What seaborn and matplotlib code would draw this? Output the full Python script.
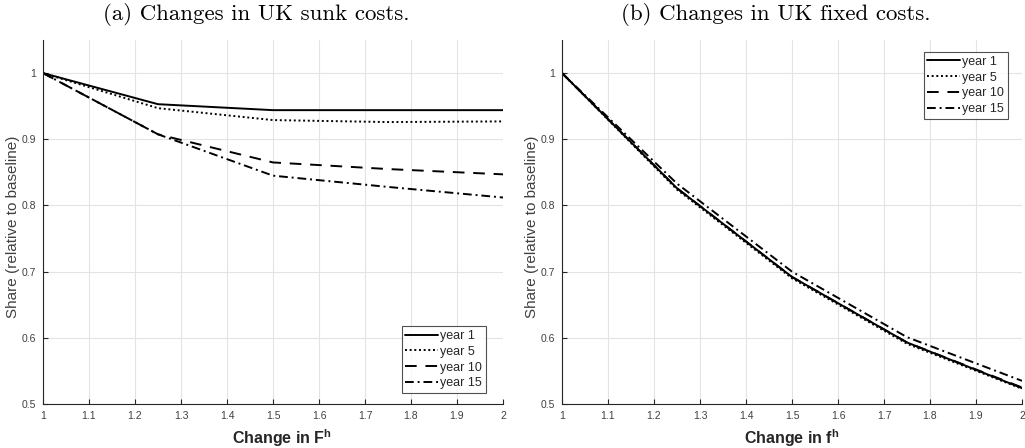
import matplotlib
matplotlib.use("Agg")
import matplotlib.pyplot as plt
import seaborn as sns
import pandas as pd

# ---- data ----
x_vals = [1.0, 1.25, 1.5, 1.75, 2.0]
series_names = ["year 1", "year 5", "year 10", "year 15"]

sunk_year1 = [1.0, 0.953, 0.944, 0.944, 0.944]
sunk_year5 = [1.0, 0.947, 0.929, 0.926, 0.927]
sunk_year10 = [1.0, 0.9075, 0.865, 0.855, 0.847]
sunk_year15 = [1.0, 0.9075, 0.845, 0.828, 0.812]

fixed_year1 = [1.0, 0.826, 0.692, 0.593, 0.524]
fixed_year5 = [1.0, 0.824, 0.690, 0.591, 0.523]
fixed_year10 = [1.0, 0.826, 0.692, 0.593, 0.525]
fixed_year15 = [1.0, 0.833, 0.700, 0.601, 0.535]

x_ticks = [1, 1.1, 1.2, 1.3, 1.4, 1.5, 1.6, 1.7, 1.8, 1.9, 2]
x_ticklabels = ["1", "1.1", "1.2", "1.3", "1.4", "1.5", "1.6", "1.7", "1.8", "1.9", "2"]
y_ticks = [0.5, 0.6, 0.7, 0.8, 0.9, 1.0]
y_ticklabels = ["0.5", "0.6", "0.7", "0.8", "0.9", "1"]

titles = ["(a) Changes in UK sunk costs.", "(b) Changes in UK fixed costs."]
xlabels = [r"Change in F$^{\mathbf{h}}$", r"Change in f$^{\mathbf{h}}$"]
ylabel = "Share (relative to baseline)"

sns.set_theme(style="white")
plt.rcParams["font.family"] = ["Liberation Sans", "DejaVu Sans"]
plt.rcParams["mathtext.fontset"] = "custom"
plt.rcParams["mathtext.bf"] = "Liberation Sans:bold"
plt.rcParams["mathtext.rm"] = "Liberation Sans"

W, H = 1025, 448
fig = plt.figure(figsize=(W / 100, H / 100), dpi=100)

def axrect(l, r, t, b):
    return [l / W, 1 - b / H, (r - l) / W, (b - t) / H]

ax1 = fig.add_axes(axrect(43, 503, 40, 404))
ax2 = fig.add_axes(axrect(562, 1022, 40, 404))

styles = ["-", (0, (1, 1.4)), (0, (6, 4.5)), (0, (4.5, 2, 1, 2))]
axis_col = "#262626"

def draw(ax, ys, xlabel, xlab_x, legend_kw):
    for name, yv, ls in zip(series_names, ys, styles):
        df = pd.DataFrame({"x": x_vals, "y": yv})
        sns.lineplot(data=df, x="x", y="y", ax=ax, color="black", lw=1.4,
                     linestyle=ls, label=name)
    ax.set_xlim(1, 2)
    ax.set_ylim(0.5, 1.05)
    ax.set_xticks(x_ticks)
    ax.set_xticklabels(x_ticklabels)
    ax.set_yticks(y_ticks)
    ax.set_yticklabels(y_ticklabels)
    ax.grid(True, color="#e3e3e3", lw=0.8)
    ax.set_axisbelow(True)
    for s in ["top", "right"]:
        ax.spines[s].set_visible(False)
    for s in ["left", "bottom"]:
        ax.spines[s].set_color(axis_col)
        ax.spines[s].set_linewidth(0.8)
    ax.tick_params(direction="in", length=3.5, width=0.8, colors=axis_col,
                   labelsize=7.5, labelcolor="#404040", pad=5,
                   bottom=True, left=True)
    ax.set_xlabel(xlabel, fontsize=11.5, fontweight="bold", color="#262626")
    ax.xaxis.set_label_coords(xlab_x, -0.093)
    ax.xaxis.label.set_va("center")
    ax.set_ylabel(ylabel, fontsize=11, color="#404040")
    ax.yaxis.set_label_coords(-0.066, 0.488)
    ax.yaxis.label.set_va("center")
    leg = ax.legend(fontsize=9, frameon=True, fancybox=False, edgecolor="#262626",
                    borderpad=0.3, labelspacing=0.3, handlelength=2.6,
                    handletextpad=0.2, borderaxespad=0, **legend_kw)
    leg.get_frame().set_linewidth(0.8)

draw(ax1, [sunk_year1, sunk_year5, sunk_year10, sunk_year15], xlabels[0], 0.52,
     dict(loc="lower right", bbox_to_anchor=((486 - 43) / 460, (404 - 393) / 364)))
draw(ax2, [fixed_year1, fixed_year5, fixed_year10, fixed_year15], xlabels[1], 0.5,
     dict(loc="upper right", bbox_to_anchor=((1008 - 562) / 460, (404 - 52) / 364)))

fig.text(256 / W, 1 - 14 / H, titles[0], family="cmr10", fontsize=16.5,
         ha="center", va="center", color="black")
fig.text(776 / W, 1 - 14 / H, titles[1], family="cmr10", fontsize=16.5,
         ha="center", va="center", color="black")

fig.savefig("out.png", dpi=100)
